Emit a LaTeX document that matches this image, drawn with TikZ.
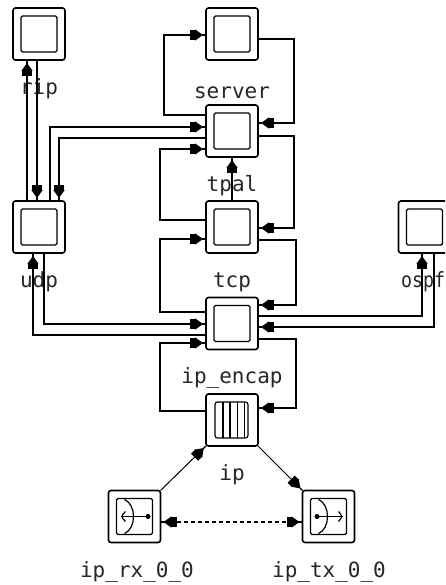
\documentclass[tikz,border=0pt]{standalone}
\usepackage{fontspec}
\setmonofont{DejaVu Sans Mono}
\usetikzlibrary{arrows.meta}
\tikzset{
  blob/.tip={Rectangle[length=6pt,width=10pt,sep=-1pt]Triangle[length=8pt,width=11pt,sep=0pt]Rectangle[length=3pt,width=1.4pt,sep=0pt]},
  conn/.style={line width=1.4pt,-{blob},line join=miter},
  diag/.style={line width=1pt,-{blob}},
  box/.style={draw,line width=1.6pt,rounded corners=2.5pt,minimum size=52pt,inner sep=0pt,outer sep=0pt},
  plainbox/.style={box,path picture={\draw[line width=1.4pt,rounded corners=1.5pt]
    ([shift={(-18pt,-18pt)}]path picture bounding box.center) rectangle ++(36pt,36pt);}},
  queuebox/.style={box,path picture={
    \begin{scope}[shift={(path picture bounding box.center)},line width=1.2pt]
      \draw (-17pt,-18pt) rectangle (16pt,18pt);
      \foreach \v in {-9,-2,5.7,12.5} \draw (\v pt,-18pt) -- (\v pt,18pt);
    \end{scope}}},
  rxbox/.style={box,path picture={
    \begin{scope}[shift={(path picture bounding box.center)},line width=1.2pt]
      \draw[rounded corners=1.5pt] (-18pt,-18pt) rectangle (18pt,18pt);
      \draw (-10pt,17pt) .. controls (2pt,12pt) and (2pt,-12pt) .. (-10pt,-17pt);
      \draw (13.5pt,0pt) -- (-13.5pt,0pt);
      \draw (-9pt,5pt) -- (-13.5pt,0pt) -- (-9pt,-5pt);
      \fill (11pt,2.5pt) rectangle (16pt,-2.5pt);
    \end{scope}}},
  txbox/.style={box,path picture={
    \begin{scope}[shift={(path picture bounding box.center)},line width=1.2pt]
      \draw[rounded corners=1.5pt] (-18pt,-18pt) rectangle (18pt,18pt);
      \draw (-10pt,17pt) .. controls (2pt,12pt) and (2pt,-12pt) .. (-10pt,-17pt);
      \draw (-11pt,0pt) -- (14pt,0pt);
      \draw (10pt,5pt) -- (14pt,0pt) -- (10pt,-5pt);
      \fill (-14pt,2.5pt) rectangle (-9pt,-2.5pt);
    \end{scope}}},
  lab/.style={anchor=base,inner sep=0pt,font=\ttfamily\fontsize{21}{21}\selectfont,color=black!85}
}
\begin{document}
\begin{tikzpicture}[x=1pt,y=-1pt]
\clip (0,0) rectangle (445,585);
\fill[white] (0,0) rectangle (445,585);
% modules
\node[plainbox] (rip) at (39,34) {};
\node[plainbox] (app) at (232,34) {};
\node[plainbox] (server) at (232,131) {};
\node[plainbox] (tpal) at (232,227) {};
\node[plainbox] (udp) at (39,227) {};
\node[plainbox] (ospf) at (424.5,227) {};
\node[plainbox] (tcp) at (232,323.5) {};
\node[queuebox] (ip) at (232,420) {};
\node[rxbox] (rx) at (134.5,516.5) {};
\node[txbox] (tx) at (328.5,516.5) {};
% labels
\node[lab] (lrip) at (39,95) {rip};
\node[lab] (lserver) at (232,99) {server};
\node[lab] (ltpal) at (232,191) {tpal};
\node[lab] (ludp) at (39,287) {udp};
\node[lab] (ltcp) at (232,287) {tcp};
\node[lab,xscale=.87] (lospf) at (423,287) {ospf};
\node[lab] (lenc) at (232,383) {ip\_encap};
\node[lab] (lip) at (232,480) {ip};
\node[lab] (lrx) at (137,577) {ip\_rx\_0\_0};
\node[lab] (ltx) at (329,577) {ip\_tx\_0\_0};
% connectors
\draw[conn] ([xshift=-12pt]udp.north) -- ([xshift=-12pt]rip.south);
\draw[conn] ([xshift=-2pt]rip.south) -- ([xshift=-2pt]udp.north);
\draw[conn] ([xshift=11pt]udp.north) |- ([yshift=4pt]server.west);
\draw[conn] ([yshift=-7pt]server.west) -| ([xshift=20pt]udp.north);
\draw[conn] ([yshift=16pt]server.west) -- ++(-42,0) |- ([yshift=-1pt]app.west);
\draw[conn] ([yshift=-5pt]app.east) -- ++(36,0) |- ([yshift=8pt]server.east);
\draw[conn] ([yshift=-5pt]server.east) -- ++(36,0) |- ([yshift=-1pt]tpal.east);
\draw[conn] ([yshift=7pt]tpal.west) -- ++(-46,0) |- ([yshift=-18pt]server.west);
\draw[conn] (tpal.north) -- (server.south);
\draw[conn] ([yshift=-13pt]tpal.east) -- ++(38,0) |- ([yshift=18.5pt]tcp.east);
\draw[conn] ([yshift=11.5pt]tcp.west) -- ++(-46,0) |- ([yshift=-12pt]tpal.west);
\draw[conn] ([yshift=-11.5pt]tcp.west) -| ([xshift=-6pt]udp.south);
\draw[conn] ([xshift=5pt]udp.south) |- ([yshift=-.5pt]tcp.west);
\draw[conn] ([yshift=9pt]ip.west) -- ++(-46,0) |- ([yshift=-19.5pt]tcp.west);
\draw[conn] ([yshift=-15.5pt]tcp.east) -- ++(38,0) |- ([yshift=12pt]ip.east);
\draw[conn] ([yshift=7.5pt]tcp.east) -| ([xshift=-2.5pt]ospf.south);
\draw[conn] ([xshift=9.5pt]ospf.south) |- ([yshift=-3.5pt]tcp.east);
\draw[diag] (rx.north east) -- (ip.south west);
\draw[diag] (ip.south east) -- (tx.north west);
\draw[line width=1.2pt,dash pattern=on 4pt off 3pt,{blob}-{blob}] ([yshift=-5.5pt]rx.east) -- ([yshift=-5.5pt]tx.west);
\end{tikzpicture}
\end{document}
